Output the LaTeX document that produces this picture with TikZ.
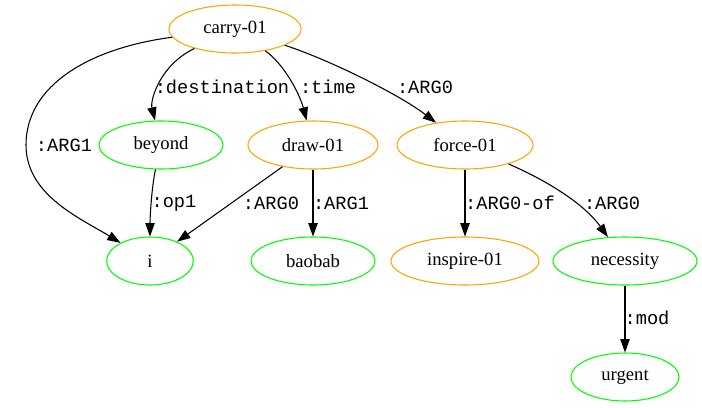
\documentclass[tikz,border=0pt]{standalone}
\usepackage{fontspec}
\setmainfont{Liberation Serif}
\newfontfamily\edgefont{Liberation Mono}
\usetikzlibrary{shapes.geometric,arrows.meta}
\definecolor{conceptorange}{HTML}{FFA500}
\definecolor{conceptgreen}{HTML}{00FF00}
\begin{document}
\begin{tikzpicture}[x=0.75pt,y=-0.75pt,
  concept/.style={ellipse, draw, line width=0.8pt, inner sep=0pt,
    minimum height=36pt, font=\fontsize{14}{16}\selectfont},
  pred/.style={concept, draw=conceptorange},
  ent/.style={concept, draw=conceptgreen},
  rel/.style={-{Triangle[length=10pt,width=7pt]}, line width=0.8pt},
  lab/.style={font=\edgefont\fontsize{14}{16}\selectfont, inner sep=0pt}]
\useasboundingbox (0,0) rectangle (702,407);

% concepts
\node[pred, minimum width=99pt]   (carry)     at (235,29)  {carry-01};
\node[ent,  minimum width=93pt]   (beyond)    at (161,145) {beyond};
\node[pred, minimum width=97.5pt] (draw)      at (313,145) {draw-01};
\node[pred, minimum width=102pt]  (force)     at (465,145) {force-01};
\node[ent,  minimum width=65pt]   (i)         at (150,261) {i};
\node[ent,  minimum width=93pt]   (baobab)    at (313,261) {baobab};
\node[pred, minimum width=111pt]  (inspire)   at (465,261) {inspire-01};
\node[ent,  minimum width=108pt]  (necessity) at (625,261) {necessity};
\node[ent,  minimum width=81pt]   (urgent)    at (625,377) {urgent};

% relations
\draw[rel] (carry) .. controls (90,48) and (26,85) .. (26,145)
                   .. controls (26,195) and (80,218) .. (i);
\draw[rel] (carry) .. controls (160,65) and (150,100) .. (beyond);
\draw[rel] (carry) .. controls (285,65) and (300,95) .. (draw);
\draw[rel] (carry) .. controls (330,60) and (400,95) .. (force);
\draw[rel] (beyond) .. controls (152,185) and (150,215) .. (i);
\draw[rel] (draw) -- (i);
\draw[rel] (draw) -- (baobab);
\draw[rel] (force) -- (inspire);
\draw[rel] (force) .. controls (550,182) and (585,205) .. (necessity);
\draw[rel] (necessity) -- (urgent);

% relation labels
\node[lab] (l-arg1)  at (64,145)  {:ARG1};
\node[lab] (l-dest)  at (222,87)  {:destination};
\node[lab] (l-time)  at (328,87)  {:time};
\node[lab] (l-arg0a) at (425,87)  {:ARG0};
\node[lab] (l-op1)   at (174,203) {:op1};
\node[lab] (l-arg0b) at (271,203) {:ARG0};
\node[lab] (l-arg1b) at (341,203) {:ARG1};
\node[lab] (l-arg0of) at (510,203) {:ARG0-of};
\node[lab] (l-arg0c) at (612,203) {:ARG0};
\node[lab] (l-mod)   at (647,318) {:mod};
\end{tikzpicture}
\end{document}
